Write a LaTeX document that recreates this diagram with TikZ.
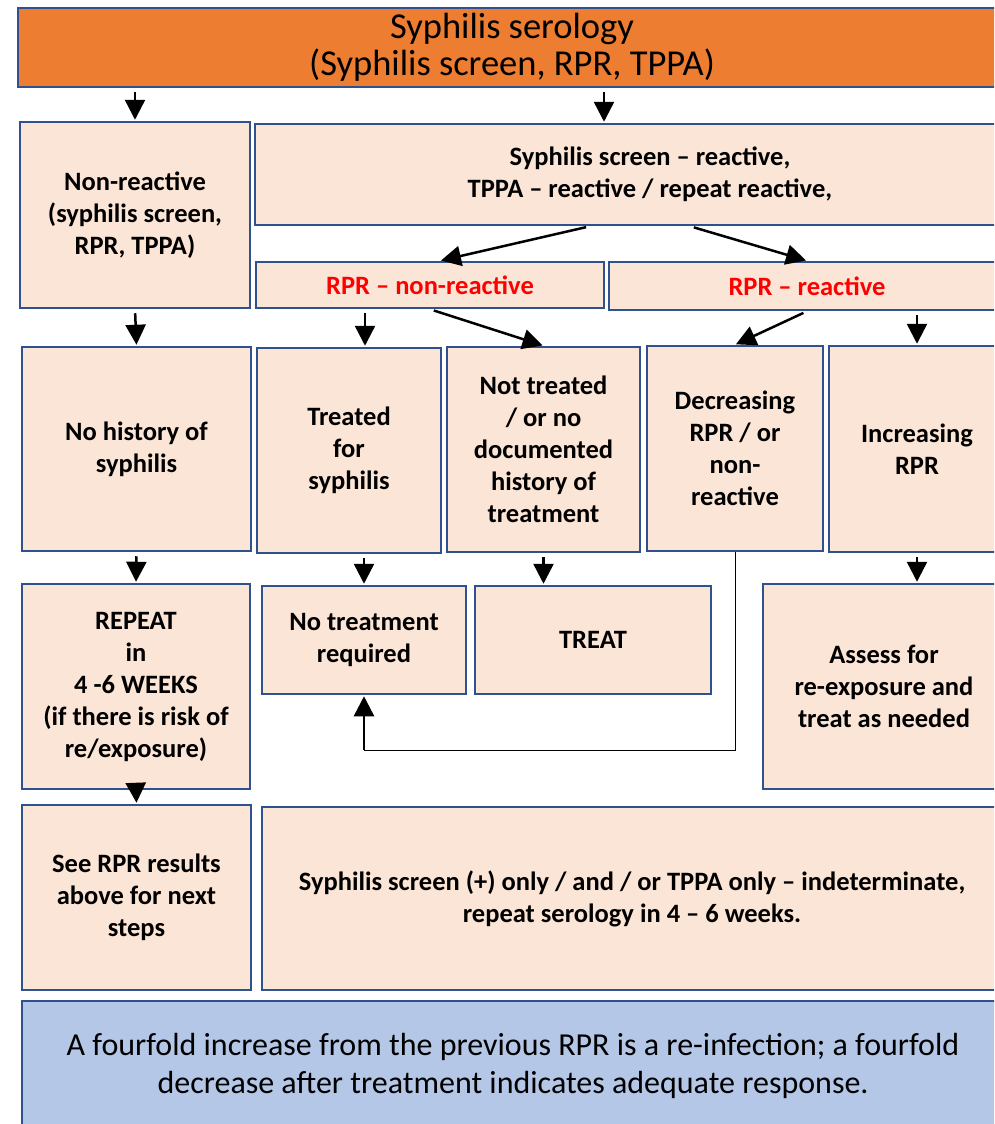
\documentclass[tikz,border=0pt]{standalone}
\usepackage{fontspec}
\setmainfont{Carlito}
\usepackage{xcolor}
\usetikzlibrary{arrows.meta,calc}
\definecolor{boxfill}{HTML}{FBE5D6}
\definecolor{boxline}{HTML}{2F528F}
\definecolor{headfill}{HTML}{ED7D31}
\definecolor{notefill}{HTML}{B4C7E7}
\definecolor{rprred}{HTML}{FF0000}

\begin{document}
\begin{tikzpicture}[x=1pt, y=-1pt,
		box/.style={draw=boxline, line width=2.5pt, fill=boxfill, align=center, inner sep=3pt,
			font=\fontsize{26.5}{32}\selectfont\bfseries},
		arr/.style={-{Triangle[length=20pt, width=20pt]}, line width=2.5pt, shorten <=4pt, shorten >=1pt}]
		\useasboundingbox (0,0) rectangle (994,1124);
		\clip (0,0) rectangle (994,1124);
		
		% Header
		\node[box, fill=headfill, minimum width=988, minimum height=79, font=\fontsize{36.5}{37}\selectfont]
			(serology) at (512,47.5) {Syphilis serology\\(Syphilis screen, RPR, TPPA)};
		
		% First row
		\node[box, minimum width=230, minimum height=186] (nonreact) at (135,215)
			{Non-reactive\\(syphilis screen,\\RPR, TPPA)};
		\node[box, minimum width=790, minimum height=101] (screen) at (650,174.5)
			{Syphilis screen -- reactive,\\TPPA -- reactive / repeat reactive,};
		\node[box, text=rprred, minimum width=348, minimum height=46] (rprneg) at (430,285)
			{RPR -- non-reactive};
		\node[box, text=rprred, minimum width=396, minimum height=48] (rprpos) at (807,286)
			{RPR -- reactive};
		
		% Second row
		\node[box, minimum width=229, minimum height=204] (nohist) at (136.5,449)
			{No history of\\syphilis};
		\node[box, minimum width=184, minimum height=205] (treated) at (349,450.5)
			{Treated\\for\\syphilis};
		\node[box, minimum width=193, minimum height=205] (nottreated) at (543.5,449.5)
			{Not treated\\/ or no\\documented\\history of\\treatment};
		\node[box, minimum width=176, minimum height=205] (decr) at (735,448.5)
			{Decreasing\\RPR / or\\non-\\reactive};
		\node[box, minimum width=176, minimum height=206] (incr) at (917,449)
			{Increasing\\RPR};
		
		% Third row
		\node[box, minimum width=228, minimum height=205] (repeat) at (136,686.5)
			{REPEAT\\in\\4 -6 WEEKS\\(if there is risk of\\re/exposure)};
		\node[box, minimum width=204, minimum height=108] (notreq) at (364,640)
			{No treatment\\required};
		\node[box, minimum width=236, minimum height=108] (treat) at (593,640)
			{TREAT};
		\node[box, minimum width=242, minimum height=205] (assess) at (884,686.5)
			{Assess for\\re-exposure and\\treat as needed};
		
		% Fourth row
		\node[box, minimum width=229, minimum height=185] (seerpr) at (136.5,897.5)
			{See RPR results\\above for next\\steps};
		\node[box, minimum width=740, minimum height=183] (indet) at (632,898.5)
			{Syphilis screen (+) only / and / or TPPA only -- indeterminate,\\repeat serology in 4 -- 6 weeks.};
		
		% Note
		\node[box, fill=notefill, minimum width=982, minimum height=130, font=\fontsize{32}{38}\selectfont]
			(note) at (513,1066) {A fourfold increase from the previous RPR is a re-infection; a fourfold\\decrease after treatment indicates adequate response.};
		
		% Arrows
		\draw[arr] (serology.south -| nonreact.north) -- (nonreact.north);
		\draw[arr] ([xshift=-46pt]screen.north |- serology.south) -- ([xshift=-46pt]screen.north);
		\draw[arr] ([xshift=-60pt]screen.south) -- ([xshift=10pt]rprneg.north);
		\draw[arr] ([xshift=40pt]screen.south) -- (rprpos.north);
		\draw[arr] (nonreact.south) -- (nohist.north);
		\draw[arr] ([xshift=16pt]treated.north |- rprneg.south) -- ([xshift=16pt]treated.north);
		\draw[arr] (rprneg.south) -- (nottreated.north);
		\draw[arr] (rprpos.south) -- (decr.north);
		\draw[arr] (rprpos.south -| incr.north) -- (incr.north);
		\draw[arr] (nohist.south) -- (repeat.north);
		\draw[arr] (notreq.north |- treated.south) -- (notreq.north);
		\draw[arr] (nottreated.south) -- (nottreated.south |- treat.north);
		\draw[arr] (incr.south) -- (incr.south |- assess.north);
		\draw[arr, shorten <=0pt] (repeat.south) -- (seerpr.north);
		
		% Decreasing back to no treatment
		\coordinate (bend) at (notreq.south |- 0,750);
		\draw[line width=0.8pt] (decr.south) -- (decr.south |- bend) -- (bend);
		\draw[arr, shorten <=0pt] (bend) -- (notreq.south);
	\end{tikzpicture}
\end{document}
